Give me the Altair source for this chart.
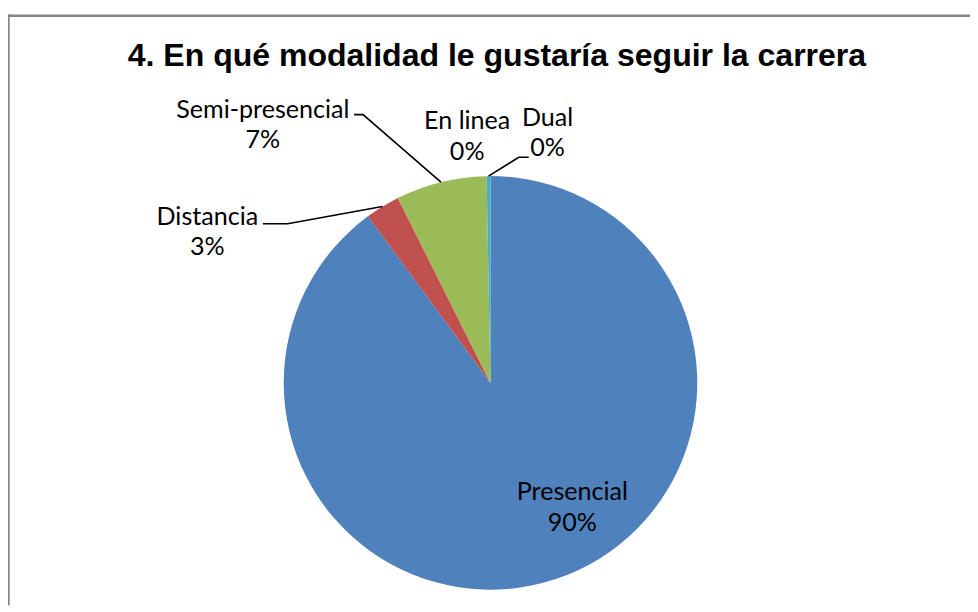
import math
import altair as alt
import pandas as pd

# ---------------- data ----------------
categories = ["Presencial", "Distancia", "Semi-presencial", "En linea", "Dual"]
values = [89.9, 2.7, 7.1, 0.0, 0.3]
title_text = "4. En qué modalidad le gustaría seguir la carrera"

# ---------------- style / layout ----------------
colors = ["#4F81BD", "#C0504D", "#9BBB59", "#8064A2", "#4BACC6"]
W, H = 970, 600
OFF = 8                          # page margin
CX, CY, R = 494.5, 383.5, 208.5  # pie centre (page px) and radius
label_pos = {
    "Presencial": (577, 502),
    "Distancia": (209, 224),
    "Semi-presencial": (265, 116),
    "En linea": (471, 128),
    "Dual": (552, 124),
}
leader_elbows = {
    "Distancia": [(265, 223), (290, 223)],
    "Semi-presencial": [(357, 113), (366, 113)],
    "Dual": [(533, 156), (523, 156)],
}

# ---------------- tables ----------------
total = sum(values)
slices = pd.DataFrame({"category": categories, "value": values, "idx": range(len(categories))})

lab_rows = []
for c, v in zip(categories, values):
    x, y = label_pos[c]
    lab_rows.append({"category": c, "x": x, "y": y, "text": f"{c}\n{round(v / total * 100)}%"})
labels = pd.DataFrame(lab_rows)

line_rows = []
cum = 0.0
for c, v in zip(categories, values):
    mid = (cum + v / 2) / total * 2 * math.pi
    cum += v
    if c in leader_elbows:
        pts = list(leader_elbows[c]) + [(CX + R * math.sin(mid), CY - R * math.cos(mid))]
        for k, (px, py) in enumerate(pts):
            line_rows.append({"category": c, "k": k, "x": px, "y": py})
leaders = pd.DataFrame(line_rows)

xs = alt.Scale(domain=[OFF, OFF + W], range=[0, W], nice=False, zero=False)
ys = alt.Scale(domain=[OFF, OFF + H], range=[0, H], nice=False, zero=False)

one = pd.DataFrame({"d": [0]})

frame_top = alt.Chart(one).mark_rule(color="#868686", strokeWidth=2.5).encode(
    x=alt.value(0), x2=alt.value(W), y=alt.value(5.3))
frame_left = alt.Chart(one).mark_rule(color="#868686", strokeWidth=2.2).encode(
    x=alt.value(0.6), y=alt.value(4), y2=alt.value(H))

title = alt.Chart(one).mark_text(
    font="Liberation Sans", fontSize=32.3, fontWeight="bold", color="black",
    align="center", baseline="alphabetic").encode(
    x=alt.value(501 - OFF), y=alt.value(63.5 - OFF), text=alt.value(title_text))

pie = alt.Chart(slices).mark_arc(outerRadius=R).encode(
    theta=alt.Theta("value:Q", stack=True),
    color=alt.Color("category:N", scale=alt.Scale(domain=categories, range=colors), legend=None),
    order=alt.Order("idx:Q"),
    x=alt.value(CX - OFF), y=alt.value(CY - OFF),
)

lines = alt.Chart(leaders).mark_line(color="black", strokeWidth=1.6).encode(
    x=alt.X("x:Q", scale=xs, axis=None),
    y=alt.Y("y:Q", scale=ys, axis=None),
    detail="category:N",
    order="k:Q",
)

texts = alt.Chart(labels).mark_text(
    font="Lato", fontSize=25.3, lineBreak="\n", lineHeight=31,
    align="center", baseline="alphabetic", color="black").encode(
    x=alt.X("x:Q", scale=xs, axis=None),
    y=alt.Y("y:Q", scale=ys, axis=None),
    text="text:N",
)

chart = alt.layer(frame_top, frame_left, title, pie, lines, texts).properties(
    width=W, height=H, padding=0, autosize="none", background="white"
).configure_view(stroke=None)

chart.save("out.html", embed_options={"renderer": "svg", "actions": False})
